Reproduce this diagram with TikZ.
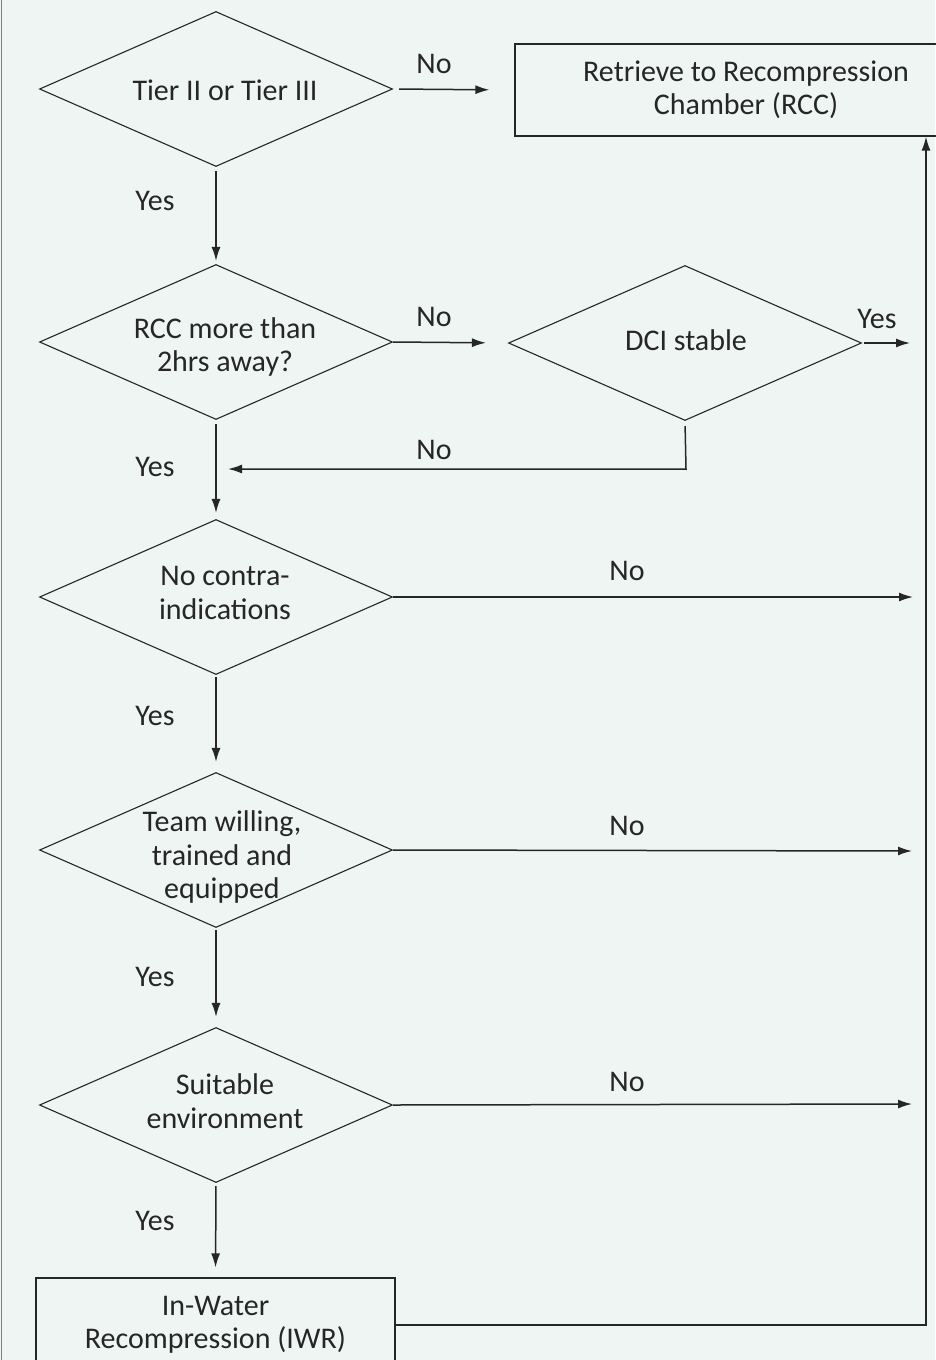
\documentclass[tikz,border=0pt]{standalone}
\usepackage{fontspec}
\setmainfont{Carlito}
\usetikzlibrary{shapes.geometric,arrows.meta}
\definecolor{bg}{RGB}{239,245,243}
\definecolor{ink}{RGB}{38,38,38}
\begin{document}
\begin{tikzpicture}[x=1pt,y=-1pt,
  dia/.style={draw=ink, diamond, minimum width=353pt, minimum height=155pt, inner sep=0pt, line width=1.1pt},
  txt/.style={font=\fontsize{30}{33.5}\selectfont, text=ink, align=center, inner sep=0pt},
  box/.style={draw=ink, rectangle, line width=1.2pt, txt},
  conn/.style={draw=ink, line width=1.5pt},
  arr/.style={conn, -{Latex[length=14pt,width=9pt]}}]
\useasboundingbox (0,0) rectangle (935,1360);
\fill[bg] (0,0) rectangle (935,1360);
\draw[line width=1.3pt, gray] (1.5,-5) -- (1.5,1365);

% decision nodes
\node[dia] (d1) at (216,89) {};
\node[txt] (t1) at (225,90) {Tier II or Tier III};
\node[dia] (d2) at (216,342) {};
\node[txt] (t2) at (225,347) {RCC more than\\2hrs away?};
\node[dia] (dci) at (685,343) {};
\node[txt] (tci) at (686,340) {DCI stable};
\node[dia] (d3) at (216,597) {};
\node[txt] (t3) at (225,593) {No contra-\\indications};
\node[dia] (d4) at (216,850) {};
\node[txt] (t4) at (222,857) {Team willing,\\trained and\\equipped};
\node[dia] (d5) at (216,1105) {};
\node[txt] (t5) at (225,1101) {Suitable\\environment};

% boxes
\node[box, minimum width=462pt, minimum height=92pt] (rcc) at (746,90) {Retrieve to Recompression\\Chamber (RCC)};
\node[box, minimum width=359pt, minimum height=94pt] (iwr) at (215.5,1325) {In-Water\\Recompression (IWR)};

% coordinates
\coordinate (cy) at (910,343);
\coordinate (dj) at (686,469);
\coordinate (dn) at (228,469);
\coordinate (e3) at (913,597);
\coordinate (e4) at (912,851);
\coordinate (e5) at (912,1104);
\coordinate (c1) at (926,1325);

% connectors
\draw[arr, shorten <=6pt, shorten >=25pt] (d1.east) -- (rcc.west);
\draw[arr, shorten <=4pt, shorten >=3pt] (d1.south) -- (d2.north);
\draw[arr, shorten >=22pt] (d2.east) -- (dci.west);
\draw[arr, shorten <=2pt] (dci.east) -- (cy);
\draw[arr, shorten <=5pt] (dci.south) -- (dj) -- (dn);
\draw[arr, shorten <=4pt, shorten >=6pt] (d2.south) -- (d3.north);
\draw[arr] (d3.east) -- (e3);
\draw[arr, shorten <=2pt, shorten >=10pt] (d3.south) -- (d4.north);
\draw[arr] (d4.east) -- (e4);
\draw[arr, shorten <=2pt, shorten >=10pt] (d4.south) -- (d5.north);
\draw[arr] (d5.east) -- (e5);
\draw[arr, shorten <=3pt, shorten >=10pt] (d5.south) -- (iwr.north);
\draw[arr] (iwr.east) -- (c1) -- (c1 |- rcc.south);

% labels
\node[txt] (l1) at (434,64) {No};
\node[txt] (l2) at (155,201) {Yes};
\node[txt] (l3) at (434,317) {No};
\node[txt] (l4) at (877,319) {Yes};
\node[txt] (l5) at (434,450) {No};
\node[txt] (l6) at (155,467) {Yes};
\node[txt] (l7) at (627,571) {No};
\node[txt] (l8) at (155,716) {Yes};
\node[txt] (l9) at (627,826) {No};
\node[txt] (l10) at (155,977) {Yes};
\node[txt] (l11) at (627,1082) {No};
\node[txt] (l12) at (155,1221) {Yes};
\end{tikzpicture}
\end{document}
